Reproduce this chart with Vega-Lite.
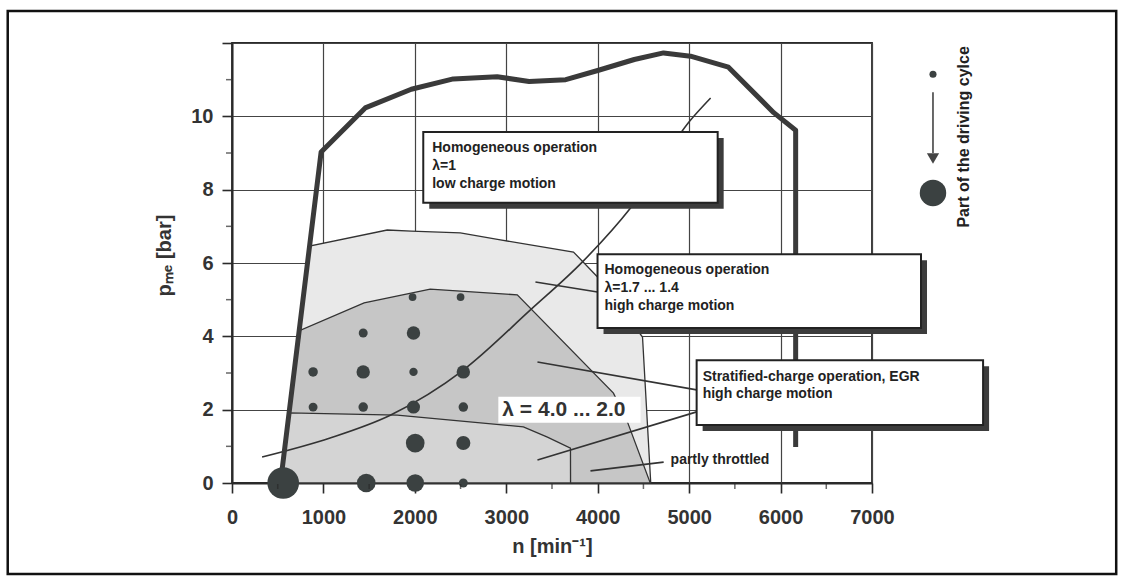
{
  "$schema": "https://vega.github.io/schema/vega-lite/v6.json",
  "width": 640,
  "height": 440,
  "autosize": {"type": "none"},
  "padding": {"left": 232, "top": 43, "right": 252, "bottom": 100},
  "background": "white",
  "config": {"view": {"stroke": "#2a2a2a", "strokeWidth": 1.8}, "font": "Liberation Sans"},
  "datasets": {
    "frame": [{"n1": -2453, "n2": 9671, "p1": 12.87, "p2": -2.48}],
    "light": [
      {"n": 530, "p": 0}, {"n": 848, "p": 6.46}, {"n": 1698, "p": 6.9}, {"n": 1961, "p": 6.87},
      {"n": 2497, "p": 6.82}, {"n": 2935, "p": 6.63}, {"n": 3735, "p": 6.3}, {"n": 3998, "p": 5.62},
      {"n": 4490, "p": 3.98}, {"n": 4580, "p": 0}
    ],
    "mid": [
      {"n": 530, "p": 0}, {"n": 750, "p": 4.17}, {"n": 1445, "p": 4.91}, {"n": 2168, "p": 5.29},
      {"n": 3120, "p": 5.13}, {"n": 4172, "p": 2.45}, {"n": 4326, "p": 1.66}, {"n": 4575, "p": 0}
    ],
    "dense": [
      {"n": 530, "p": 0}, {"n": 624, "p": 1.91}, {"n": 1807, "p": 1.85}, {"n": 3187, "p": 1.53},
      {"n": 3450, "p": 1.25}, {"n": 3702, "p": 0.95}, {"n": 3703, "p": 0}
    ],
    "curve": [
      {"n": 329, "p": 0.71}, {"n": 1073, "p": 1.23}, {"n": 1731, "p": 1.85}, {"n": 2530, "p": 3.08},
      {"n": 3264, "p": 4.72}, {"n": 3833, "p": 6.03}, {"n": 4359, "p": 7.5}, {"n": 5016, "p": 9.9},
      {"n": 5235, "p": 10.5}
    ],
    "full": [
      {"i": 0, "n": 530, "p": 0}, {"i": 1, "n": 975, "p": 9.03}, {"i": 2, "n": 1457, "p": 10.23},
      {"i": 3, "n": 1961, "p": 10.74}, {"i": 4, "n": 2420, "p": 11.02}, {"i": 5, "n": 2900, "p": 11.08},
      {"i": 6, "n": 3250, "p": 10.95}, {"i": 7, "n": 3650, "p": 11.0}, {"i": 8, "n": 4000, "p": 11.25},
      {"i": 9, "n": 4400, "p": 11.55}, {"i": 10, "n": 4720, "p": 11.73}, {"i": 11, "n": 5015, "p": 11.64},
      {"i": 12, "n": 5430, "p": 11.34}, {"i": 13, "n": 5925, "p": 10.1}, {"i": 14, "n": 6165, "p": 9.62},
      {"i": 15, "n": 6165, "p": 0.98}
    ],
    "leaders": [
      {"n": 3319, "p": 5.48, "n2": 3998, "p2": 5.21},
      {"n": 3341, "p": 3.3, "n2": 5082, "p2": 2.54},
      {"n": 3341, "p": 0.63, "n2": 5082, "p2": 1.94},
      {"n": 3921, "p": 0.33, "n2": 4721, "p2": 0.57}
    ],
    "bubbles": [
      {"n": 560, "p": 0, "share": 100},
      {"n": 1468, "p": 0, "share": 35},
      {"n": 2004, "p": 0, "share": 31},
      {"n": 2530, "p": 0, "share": 8},
      {"n": 2004, "p": 1.09, "share": 35},
      {"n": 2530, "p": 1.09, "share": 20},
      {"n": 887, "p": 2.07, "share": 8},
      {"n": 1435, "p": 2.07, "share": 9},
      {"n": 1985, "p": 2.07, "share": 17},
      {"n": 2530, "p": 2.07, "share": 9},
      {"n": 887, "p": 3.03, "share": 9},
      {"n": 1435, "p": 3.03, "share": 18},
      {"n": 1985, "p": 3.03, "share": 7},
      {"n": 2530, "p": 3.03, "share": 18},
      {"n": 1435, "p": 4.09, "share": 8},
      {"n": 1985, "p": 4.09, "share": 18},
      {"n": 1975, "p": 5.07, "share": 6},
      {"n": 2500, "p": 5.07, "share": 6}
    ],
    "legendDots": [
      {"n": 7667, "p": 11.15, "share": 5},
      {"n": 7667, "p": 7.91, "share": 70}
    ],
    "arrow": [{"n": 7667, "n2": 7667, "p": 10.66, "p2": 9.0}],
    "arrowHead": [{"n": 7667, "p": 8.85}],
    "lamBox": [{"n": 2913, "n2": 4469, "p": 2.35, "p2": 1.64}],
    "lamText": [{"n": 2957, "p": 1.99, "t": "λ = 4.0 ... 2.0"}],
    "boxes": [
      {"n": 2092, "n2": 5312, "p": 9.57, "p2": 7.64},
      {"n": 3998, "n2": 7536, "p": 6.24, "p2": 4.23},
      {"n": 5082, "n2": 8215, "p": 3.35, "p2": 1.58}
    ],
    "boxText": [
      {"n": 2190, "p": 9.14, "t": "Homogeneous operation"},
      {"n": 2190, "p": 8.64, "t": "λ=1"},
      {"n": 2190, "p": 8.15, "t": "low charge motion"},
      {"n": 4074, "p": 5.81, "t": "Homogeneous operation"},
      {"n": 4074, "p": 5.32, "t": "λ=1.7 ... 1.4"},
      {"n": 4074, "p": 4.83, "t": "high charge motion"},
      {"n": 5148, "p": 2.89, "t": "Stratified-charge operation, EGR"},
      {"n": 5148, "p": 2.43, "t": "high charge motion"},
      {"n": 4797, "p": 0.63, "t": "partly throttled"}
    ],
    "legendText": [{"n": 8007, "p": 9.44, "t": "Part of the driving cylce"}],
    "minorX": [
      {"n": 500, "p": 0}, {"n": 1500, "p": 0}, {"n": 2500, "p": 0}, {"n": 3500, "p": 0},
      {"n": 4500, "p": 0}, {"n": 5500, "p": 0}, {"n": 6500, "p": 0}
    ],
    "minorY": [
      {"n": 0, "p": 1}, {"n": 0, "p": 3}, {"n": 0, "p": 5}, {"n": 0, "p": 7}, {"n": 0, "p": 9}, {"n": 0, "p": 11}
    ]
  },
  "encoding": {
    "x": {
      "field": "n", "type": "quantitative", "title": "n [min⁻¹]",
      "scale": {"domain": [0, 7000], "nice": false, "zero": false},
      "axis": {
        "values": [0, 1000, 2000, 3000, 4000, 5000, 6000, 7000],
        "format": "d",
        "grid": true, "gridColor": "#444", "gridWidth": 1.2,
        "domainColor": "#2a2a2a", "domainWidth": 2,
        "tickColor": "#2a2a2a", "tickWidth": 1.6, "tickSize": 10,
        "labelFont": "Liberation Sans", "labelFontSize": 20, "labelFontWeight": "bold",
        "labelColor": "#333", "labelPadding": 14, "labelFlush": false,
        "titleFont": "Liberation Sans", "titleFontSize": 20,
        "titleFontWeight": "bold", "titleColor": "#333", "titlePadding": 9
      }
    },
    "y": {
      "field": "p", "type": "quantitative", "title": "pₘₑ [bar]",
      "scale": {"domain": [0, 12], "nice": false, "zero": false},
      "axis": {
        "values": [0, 2, 4, 6, 8, 10, 12],
        "labelExpr": "datum.value == 12 ? '' : datum.label",
        "grid": true, "gridColor": "#444", "gridWidth": 1.2,
        "domainColor": "#2a2a2a", "domainWidth": 2,
        "tickColor": "#2a2a2a", "tickWidth": 1.6, "tickSize": 10,
        "labelFont": "Liberation Sans", "labelFontSize": 20, "labelFontWeight": "bold",
        "labelColor": "#333", "labelPadding": 9, "labelFlush": false,
        "titleFont": "Liberation Sans", "titleFontSize": 20,
        "titleFontWeight": "bold", "titleColor": "#333", "titleX": -58, "titleY": 212
      }
    }
  },
  "layer": [
    {
      "data": {"name": "light"},
      "mark": {"type": "area", "fill": "#e9e9e9", "stroke": "#333", "strokeWidth": 1.3}
    },
    {
      "data": {"name": "frame"},
      "mark": {"type": "rect", "fill": "white", "fillOpacity": 0, "stroke": "#111", "strokeWidth": 2.5, "clip": false},
      "encoding": {
        "x": {"field": "n1", "type": "quantitative", "title": "n [min⁻¹]"},
        "x2": {"field": "n2"},
        "y": {"field": "p1", "type": "quantitative", "title": "pₘₑ [bar]"},
        "y2": {"field": "p2"}
      }
    },
    {
      "data": {"name": "mid"},
      "mark": {"type": "area", "fill": "#c6c6c6", "stroke": "#333", "strokeWidth": 1.3}
    },
    {
      "data": {"name": "dense"},
      "mark": {"type": "area", "fill": "#d4d4d4", "stroke": "#333", "strokeWidth": 1.3}
    },
    {
      "data": {"name": "curve"},
      "mark": {"type": "line", "stroke": "#333", "strokeWidth": 1.6, "interpolate": "monotone"}
    },
    {
      "data": {"name": "full"},
      "mark": {"type": "line", "stroke": "#3a3a3a", "strokeWidth": 5, "strokeJoin": "round"},
      "encoding": {"order": {"field": "i", "type": "quantitative"}}
    },
    {
      "data": {"name": "leaders"},
      "mark": {"type": "rule", "stroke": "#333", "strokeWidth": 1.6},
      "encoding": {"x2": {"field": "n2"}, "y2": {"field": "p2"}}
    },
    {
      "data": {"name": "bubbles"},
      "mark": {"type": "circle", "fill": "#3b4141", "opacity": 1, "clip": false},
      "encoding": {
        "size": {"field": "share", "type": "quantitative", "scale": {"domain": [0, 100], "range": [0, 1000], "zero": true}, "legend": null}
      }
    },
    {
      "data": {"name": "legendDots"},
      "mark": {"type": "circle", "fill": "#3b4141", "opacity": 1, "clip": false},
      "encoding": {
        "size": {"field": "share", "type": "quantitative", "scale": {"domain": [0, 100], "range": [0, 1000], "zero": true}, "legend": null}
      }
    },
    {
      "data": {"name": "arrow"},
      "mark": {"type": "rule", "stroke": "#444", "strokeWidth": 1.6, "clip": false},
      "encoding": {"x2": {"field": "n2"}, "y2": {"field": "p2"}}
    },
    {
      "data": {"name": "arrowHead"},
      "mark": {"type": "point", "shape": "triangle-down", "filled": true, "fill": "#444", "opacity": 1, "size": 150, "clip": false}
    },
    {
      "data": {"name": "lamBox"},
      "mark": {"type": "rect", "fill": "white"},
      "encoding": {"x2": {"field": "n2"}, "y2": {"field": "p2"}}
    },
    {
      "data": {"name": "lamText"},
      "mark": {"type": "text", "align": "left", "baseline": "middle", "font": "Liberation Sans", "fontSize": 21, "fontWeight": "bold", "fill": "#333"},
      "encoding": {"text": {"field": "t"}}
    },
    {
      "data": {"name": "boxes"},
      "mark": {"type": "rect", "fill": "#3c3c3c", "xOffset": 6, "x2Offset": 6, "yOffset": 6, "y2Offset": 6, "clip": false},
      "encoding": {"x2": {"field": "n2"}, "y2": {"field": "p2"}}
    },
    {
      "data": {"name": "boxes"},
      "mark": {"type": "rect", "fill": "white", "stroke": "#222", "strokeWidth": 2, "clip": false},
      "encoding": {"x2": {"field": "n2"}, "y2": {"field": "p2"}}
    },
    {
      "data": {"name": "boxText"},
      "mark": {"type": "text", "align": "left", "baseline": "middle", "font": "Liberation Sans", "fontSize": 14, "fontWeight": "bold", "fill": "#222", "clip": false},
      "encoding": {"text": {"field": "t"}}
    },
    {
      "data": {"name": "legendText"},
      "mark": {"type": "text", "align": "center", "baseline": "middle", "angle": 270, "font": "Liberation Sans", "fontSize": 16, "fontWeight": "bold", "fill": "#222", "clip": false},
      "encoding": {"text": {"field": "t"}}
    },
    {
      "data": {"name": "minorX"},
      "mark": {"type": "tick", "orient": "vertical", "size": 5, "thickness": 1.5, "color": "#2a2a2a", "yOffset": 3.5, "clip": false}
    },
    {
      "data": {"name": "minorY"},
      "mark": {"type": "tick", "orient": "horizontal", "size": 5, "thickness": 1.5, "color": "#2a2a2a", "xOffset": -3.5, "clip": false}
    }
  ]
}
